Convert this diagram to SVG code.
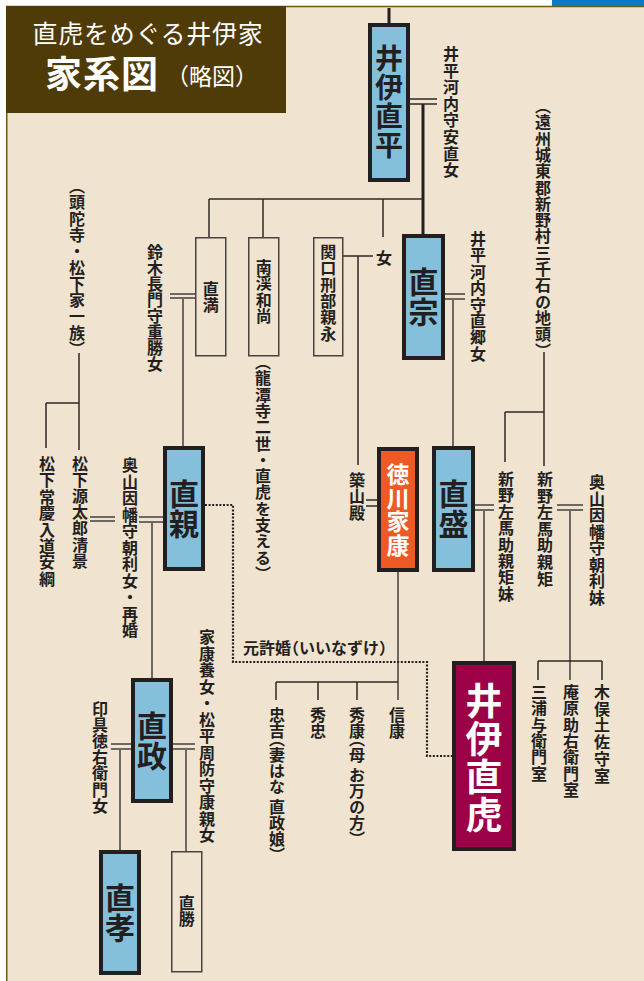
<svg xmlns="http://www.w3.org/2000/svg" width="644" height="981" viewBox="0 0 644 981">
<defs><style>
.v{writing-mode:vertical-rl;font-family:"Noto Sans CJK JP","Noto Sans CJK SC",sans-serif;fill:#231f20}
.h{font-family:"Noto Sans CJK JP","Noto Sans CJK SC",sans-serif}
.s{font-size:16px;font-weight:700}
.p{font-feature-settings:"vhal" 1}
.ph{font-feature-settings:"halt" 1}
.big{font-weight:700;text-anchor:middle}
.b30{font-size:30px}
.w{fill:#fff}
.nb{fill:#84bfdc;stroke:#231f20;stroke-width:4}
.sb{fill:none;stroke:#4a4240;stroke-width:1.5}
.ln{fill:none;stroke:#2e2826;stroke-width:1.5}
.lg{fill:none;stroke:#6f6762;stroke-width:2}
.th{fill:none;stroke:#231f20;stroke-width:3}
.dot{fill:none;stroke:#231f20;stroke-width:2.2;stroke-dasharray:2 1.6}
</style></defs>
<rect width="644" height="981" fill="#fff"/>
<rect x="6" y="6" width="638" height="975" fill="#f0e3cf"/>
<path d="M6.75 981V6.5H644" stroke="#6b5a1c" stroke-width="1.5" fill="none"/>
<rect x="552" y="0" width="92" height="6" fill="#0b7bbf"/>
<g id="title">
<rect x="6" y="6" width="280" height="107" fill="#4f3b08"/>
<text class="h w" x="148" y="43" font-size="25" letter-spacing="0.7" text-anchor="middle">直虎をめぐる井伊家</text>
<text class="h w" x="45" y="88" font-size="37" font-weight="700" letter-spacing="1">家系図</text>
<text class="h w" x="166" y="85" font-size="23">（略図）</text>
</g>
<g id="connectors">
<path class="th" d="M389 8V23M423 104V234"/>
<path class="ln" d="M410 99H437M410 104H437"/>
<path class="ln" d="M209 199H423M209 199V237M263 199V237M383 199V237"/>
<path class="ln" d="M343 256H373M358 256V465"/>
<path class="lg" d="M445 294H465M445 299H465M453 299V446"/>
<path class="ln" d="M544 352V466M505 412H544M505 412V462"/>
<path class="lg" d="M475 505H494M475 510H494M484 510V661"/>
<path class="lg" d="M557 505H583M557 510H583M570 510V680"/>
<path class="ln" d="M538 661H602M538 661V680M602 661V680"/>
<path class="lg" d="M170 294H195M170 298H195M183 298V446"/>
<path class="ln" d="M79 353V450M46 403H79M46 403V448"/>
<path class="lg" d="M90 517H115M90 521H115M139 517H163M139 522H163M152 522V678"/>
<path class="ln" d="M366 500H377M366 506H377"/>
<path class="lg" d="M398 572V700"/>
<path class="ln" d="M276 682H398M276 682V700M318 682V700M357 682V700"/>
<path class="lg" d="M111 744H131M111 749H131M120 749V850M173 744H195M173 749H195M186 749V851"/>
<path class="dot" d="M205 505H233V662H427V756H452"/>
<text class="h s" x="243" y="654" fill="#231f20">元許婚<tspan class="ph">（</tspan>いいなずけ<tspan class="ph">）</tspan></text>
</g>
<g id="naohira"><rect class="nb" x="370" y="25" width="38" height="155"/><text class="v big" x="389" y="102" style="font-size:28px" letter-spacing="1">井伊直平</text></g>
<g id="naomune"><rect class="nb" x="404" y="236" width="39" height="122"/><text class="v big b30" x="423.5" y="297">直宗</text></g>
<g id="naochika"><rect class="nb" x="165" y="448" width="38" height="121"/><text class="v big b30" x="184" y="509">直親</text></g>
<g id="naomori"><rect class="nb" x="434" y="448" width="39" height="122"/><text class="v big b30" x="453.5" y="509">直盛</text></g>
<g id="ieyasu"><rect x="379" y="449" width="38" height="121" fill="#ef5a24" stroke="#231f20" stroke-width="4"/><text class="v big w" x="398" y="510" style="font-size:23px" letter-spacing="0.5">徳川家康</text></g>
<g id="naotora"><rect x="454" y="663" width="60" height="186" fill="#9c0047" stroke="#231f20" stroke-width="4"/><text class="v big w" x="484" y="758" style="font-size:37px" letter-spacing="1">井伊直虎</text></g>
<g id="naomasa"><rect class="nb" x="133" y="680" width="38" height="121"/><text class="v big b30" x="152" y="741">直政</text></g>
<g id="naotaka"><rect class="nb" x="101" y="852" width="38" height="121"/><text class="v big b30" x="120" y="913">直孝</text></g>
<g id="naomitsu"><rect class="sb" x="195.75" y="237.75" width="30" height="118"/><text class="v s" x="210.75" y="297" text-anchor="middle">直満</text></g>
<g id="nankei"><rect class="sb" x="248.75" y="237.75" width="30" height="118"/><text class="v s" x="263.75" y="259" letter-spacing=".3">南渓和尚</text></g>
<g id="sekiguchi"><rect class="sb" x="313.75" y="237.75" width="29" height="118"/><text class="v s" x="328.25" y="244" letter-spacing=".3">関口刑部親永</text></g>
<g id="naokatsu"><rect class="sb" x="171.75" y="851.75" width="30" height="120"/><text class="v s" x="186.75" y="911" text-anchor="middle">直勝</text></g>
<g id="labels">
<text class="v s" x="451" y="46" letter-spacing=".6">井平河内守安直女</text>
<text class="v s" x="543" y="106" letter-spacing=".3"><tspan class="p">（</tspan>遠州城東郡新野村三千石の地頭<tspan class="p">）</tspan></text>
<text class="v s" x="478" y="231" letter-spacing=".4">井平河内守直郷女</text>
<text class="v s" x="155" y="244">鈴木長門守重勝女</text>
<text class="v s" x="77" y="186" letter-spacing=".3"><tspan class="p">（</tspan>頭陀寺・松下家一族<tspan class="p">）</tspan></text>
<text class="v s" x="384" y="250">女</text>
<text class="v s" x="263" y="362" letter-spacing=".3"><tspan class="p">（</tspan>龍潭寺二世・直虎を支える<tspan class="p">）</tspan></text>
<text class="v s" x="47" y="456" letter-spacing=".4">松下常慶入道安綱</text>
<text class="v s" x="80" y="456" letter-spacing=".1">松下源太郎清景</text>
<text class="v s" x="130" y="457" letter-spacing=".5">奥山因幡守朝利女・再婚</text>
<text class="v s" x="357" y="472" letter-spacing=".3">築山殿</text>
<text class="v s" x="506" y="471" letter-spacing=".4">新野左馬助親矩妹</text>
<text class="v s" x="545" y="471" letter-spacing=".6">新野左馬助親矩</text>
<text class="v s" x="597" y="474" letter-spacing=".5">奥山因幡守朝利妹</text>
<text class="v s" x="207" y="629" letter-spacing=".5">家康養女・松平周防守康親女</text>
<text class="v s" x="100" y="701" letter-spacing=".1">印具徳右衛門女</text>
<text class="v s" x="277" y="707">忠吉<tspan class="p">（</tspan>妻はな 直政娘<tspan class="p">）</tspan></text>
<text class="v s" x="318" y="707">秀忠</text>
<text class="v s" x="357" y="707">秀康<tspan class="p">（</tspan>母 お万の方<tspan class="p">）</tspan></text>
<text class="v s" x="397" y="707">信康</text>
<text class="v s" x="539" y="684" letter-spacing=".3">三浦与衛門室</text>
<text class="v s" x="571" y="684" letter-spacing=".3">庵原助右衛門室</text>
<text class="v s" x="602" y="684" letter-spacing=".7">木俣土佐守室</text>
</g>
</svg>
